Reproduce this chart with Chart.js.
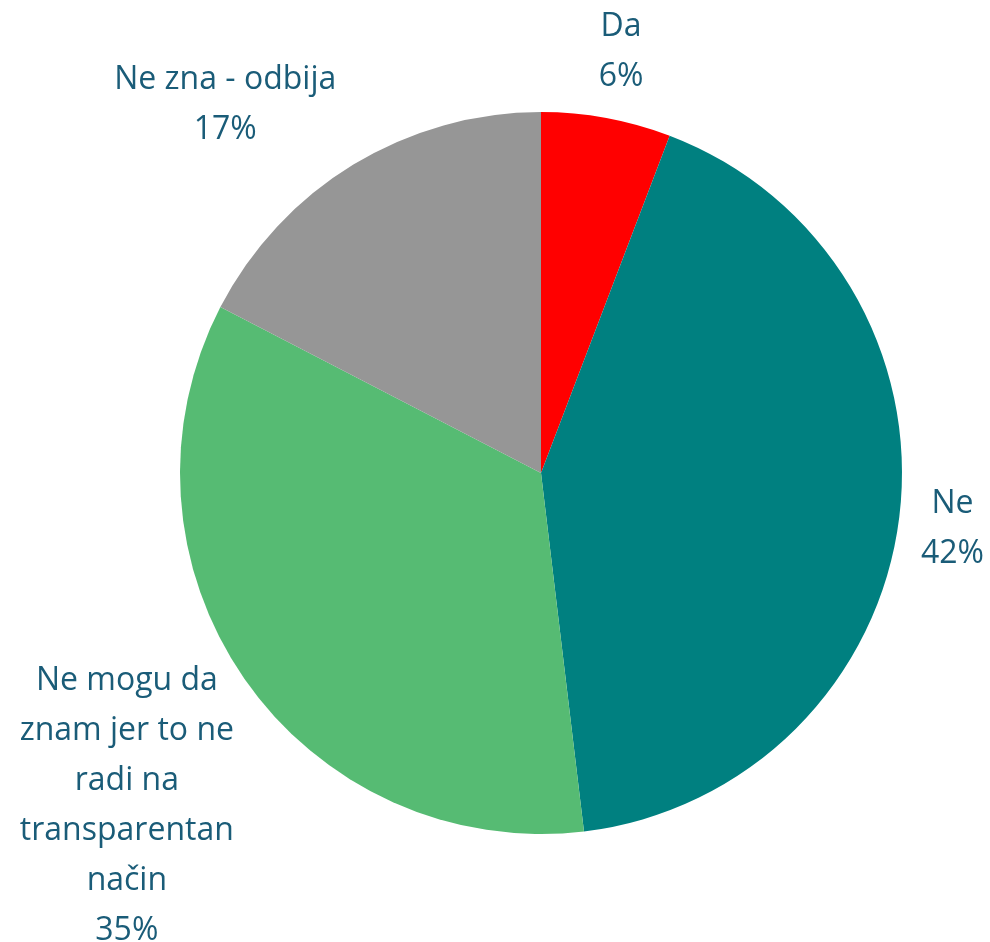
<!DOCTYPE html>
<html>
<head>
<meta charset="utf-8">
<script src="https://cdn.jsdelivr.net/npm/chart.js@4"></script>
<style>
  html, body { margin: 0; padding: 0; background: #fff; }
  #wrap { width: 990px; height: 942px; }
</style>
</head>
<body>
<div id="wrap"><canvas id="pieChart" width="990" height="942"></canvas></div>
<script>
// Podaci grafikona
const categories = [
    ['Da'],
    ['Ne'],
    ['Ne mogu da', 'znam jer to ne', 'radi na', 'transparentan', 'način'],
    ['Ne zna - odbija']
];
const values = [5.8, 42.3, 34.5, 17.4];
const sliceColors = ['#ff0000', '#008080', '#56bb73', '#969696'];

// Pomeranje natpisa u odnosu na automatsku poziciju (px)
const labelNudge = [[7, 3], [2, 3], [-13, 30], [-60, 0]];

// Plugin za natpise izvan kriški
const outsideLabels = {
    id: 'outsideLabels',
    afterDatasetsDraw(chart) {
        const ctx = chart.ctx;
        const meta = chart.getDatasetMeta(0);
        const lineH = 50;
        ctx.save();
        ctx.font = '32px "Open Sans"';
        ctx.fillStyle = '#1a5c78';
        ctx.textAlign = 'center';
        ctx.textBaseline = 'middle';
        meta.data.forEach((arc, i) => {
            const p = arc.getProps(['x', 'y', 'startAngle', 'endAngle', 'outerRadius'], true);
            const mid = (p.startAngle + p.endAngle) / 2;
            const ux = Math.cos(mid), uy = Math.sin(mid);
            const r = p.outerRadius + 20;
            const px = p.x + ux * r, py = p.y + uy * r;
            const lines = categories[i].concat([Math.round(values[i]) + '%']);
            const w = Math.max(...lines.map(l => ctx.measureText(l).width));
            const h = lines.length * lineH;
            const left = px - w * (1 - ux) / 2 + labelNudge[i][0];
            const top = py - h * (1 - uy) / 2 + labelNudge[i][1];
            lines.forEach((l, k) => {
                ctx.fillText(l, left + w / 2, top + lineH / 2 + k * lineH);
            });
        });
        ctx.restore();
    }
};

new Chart(document.getElementById('pieChart'), {
    type: 'pie',
    data: {
        labels: categories.map(c => c.join(' ')),
        datasets: [{
            data: values,
            backgroundColor: sliceColors,
            borderWidth: 0
        }]
    },
    options: {
        responsive: false,
        animation: false,
        layout: { padding: { top: 112, bottom: 108, left: 180, right: 88 } },
        plugins: {
            legend: { display: false },
            tooltip: { enabled: false }
        }
    },
    plugins: [outsideLabels]
});
</script>
</body>
</html>
